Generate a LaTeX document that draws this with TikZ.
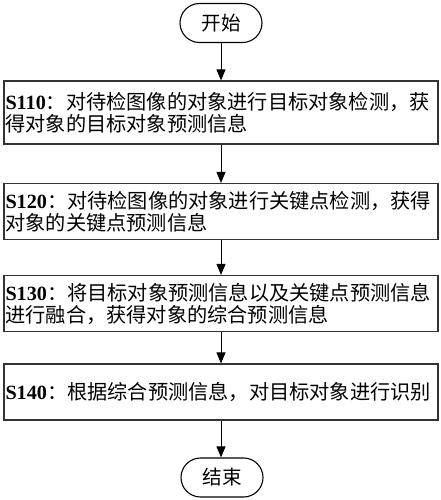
\documentclass[tikz,border=0pt]{standalone}
\usepackage{fontspec}
\setmainfont{Liberation Serif}
\newfontfamily\cjk{Noto Sans CJK SC}
\newfontfamily\latin{Liberation Serif}
\usetikzlibrary{arrows.meta}
\tikzset{
  terminal/.style={draw, line width=1.1pt, rounded corners=19.5pt,
    minimum width=82pt, minimum height=39pt,
    font=\cjk\fontsize{19.6}{22}\selectfont},
  stepbox/.style={draw=black!80, line width=1.1pt, text width=431pt,
    inner xsep=1.5pt, align=left, minimum height=56pt,
    font=\cjk\fontsize{20.2}{22}\selectfont},
  flow/.style={-{Triangle[width=9pt,length=11pt]}, line width=0.9pt}
}
\newcommand{\stepno}[1]{{\latin\bfseries #1}}

\begin{document}
\begin{tikzpicture}[x=1pt,y=-1pt]
	\useasboundingbox (0,0) rectangle (441,500);
	
	\node[terminal] (start) at (221,23) {开始};
	\node[stepbox, minimum height=63pt] (s110) at (221,112.5)
		{\stepno{S110}：对待检图像的对象进行目标对象检测，获\\得对象的目标对象预测信息};
	\node[stepbox] (s120) at (221,211.5)
		{\stepno{S120}：对待检图像的对象进行关键点检测，获得\\对象的关键点预测信息};
	\node[stepbox] (s130) at (221,303.5)
		{\stepno{S130}：将目标对象预测信息以及关键点预测信息\\进行融合，获得对象的综合预测信息};
	\node[stepbox] (s140) at (221,392)
		{\stepno{S140}：根据综合预测信息，对目标对象进行识别};
	\node[terminal] (stop) at (222,477.5) {结束};
	
	\draw[flow] (start) -- (s110);
	\draw[flow] (s110) -- (s120);
	\draw[flow] (s120) -- (s130);
	\draw[flow] (s130) -- (s140);
	\draw[flow] (s140) -- (s140 |- stop.north);
\end{tikzpicture}
\end{document}
